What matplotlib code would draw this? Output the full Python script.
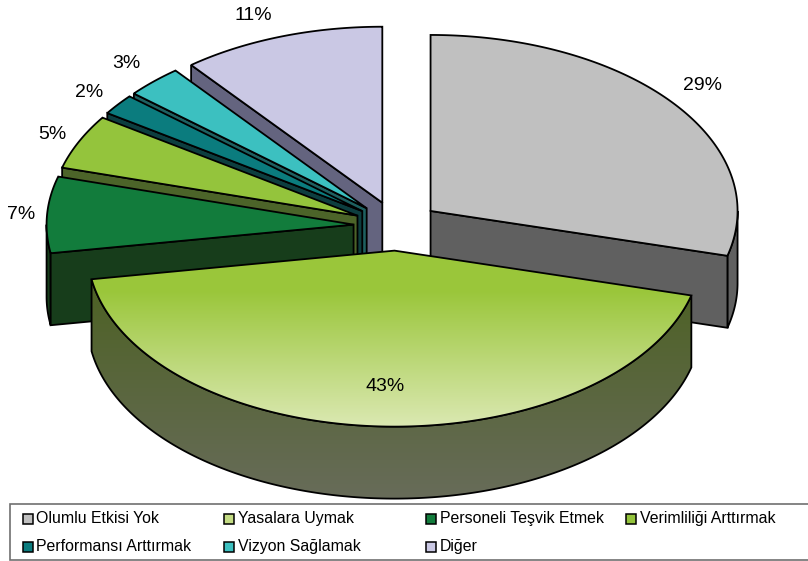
import numpy as np
import matplotlib
matplotlib.use("Agg")
import matplotlib.pyplot as plt
from matplotlib.patches import Polygon, Rectangle

plt.rcParams["font.family"] = ["Liberation Sans", "DejaVu Sans"]

categories = ["Olumlu Etkisi Yok", "Yasalara Uymak", "Personeli Teşvik Etmek",
              "Verimliliği Arttırmak", "Performansı Arttırmak", "Vizyon Sağlamak", "Diğer"]
values = [29.1, 43.3, 7.0, 5.0, 1.9, 3.0, 10.7]
top_colors = ["#C0C0C0", "#9AC63A", "#127C3C", "#94C43C", "#0B7C7E", "#3CC0C0", "#CAC8E4"]
wall_colors = ["#606060", "#4F6228", "#173D1B", "#4C6429", "#0D3E3F", "#1E6060", "#64647F"]
legend_colors = ["#C0C0C0", "#C4DC84", "#127C3C", "#94C43C", "#0B7C7E", "#3CC0C0", "#CAC8E4"]
label_pos = [(702, 85), (385, 386), (21, 214), (52, 134), (89, 92), (126, 63), (253, 15)]
draw_order = [6, 5, 4, 3, 2, 0, 1]

CX, CY = 396.5, 226
RX, RY = 307, 176
EXPLODE = 43
DEPTH = 72

fig = plt.figure(figsize=(8.08, 5.61), dpi=100)
ax = fig.add_axes([0, 0, 1, 1])
ax.axis("off")


def point(cx, cy, ang):
    return cx + RX * np.sin(ang), cy - RY * np.cos(ang)


def gradient(verts, c_top, c_bottom, y0, y1):
    # vertical colour ramp clipped to a polygon, flat above y0 and below y1
    c0 = np.array(matplotlib.colors.to_rgb(c_top))
    c1 = np.array(matplotlib.colors.to_rgb(c_bottom))
    rows = np.arange(0, 561)
    t = np.clip((rows - y0) / (y1 - y0), 0, 1)[:, None, None]
    im = ax.imshow(c0 + (c1 - c0) * t, extent=[0, 808, 561, 0], aspect="auto", zorder=3)
    patch = Polygon(verts, closed=True, transform=ax.transData)
    im.set_clip_path(patch)


edges = np.radians(np.cumsum([0] + values) * 3.6)

for i in draw_order:
    a0, a1 = edges[i], edges[i + 1]
    mid = (a0 + a1) / 2
    cx = CX + EXPLODE * np.sin(mid)
    cy = CY - EXPLODE * RY / RX * np.cos(mid)
    ang = np.linspace(a0, a1, 200)
    xs, ys = point(cx, cy, ang)
    top = np.column_stack([np.r_[cx, xs], np.r_[cy, ys]])

    # rim wall, only the part facing the viewer
    lo, hi = max(a0, np.pi / 2), min(a1, 3 * np.pi / 2)
    if hi > lo:
        ra = np.linspace(lo, hi, 200)
        rx, ry = point(cx, cy, ra)
        rim = np.column_stack([np.r_[rx, rx[::-1]], np.r_[ry, ry[::-1] + DEPTH]])
        if i == 1:
            gradient(rim, "#4F6228", "#686C5A", 300, 500)
            ax.add_patch(Polygon(rim, closed=True, fc="none", ec="black", lw=1.3, zorder=3))
        else:
            ax.add_patch(Polygon(rim, closed=True, fc=wall_colors[i], ec="black", lw=1.3, zorder=3))

    # radial wall on the side that shows
    if i != 1:
        wall_ang = a1 if i == 0 else a0
        wx, wy = point(cx, cy, wall_ang)
        wall = [(cx, cy), (wx, wy), (wx, wy + DEPTH), (cx, cy + DEPTH)]
        ax.add_patch(Polygon(wall, closed=True, fc=wall_colors[i], ec="black", lw=1.3, zorder=3))

    if i == 1:
        gradient(top, "#9AC63A", "#DCE9B4", 290, 428)
        ax.add_patch(Polygon(top, closed=True, fc="none", ec="black", lw=1.3, zorder=3))
    else:
        ax.add_patch(Polygon(top, closed=True, fc=top_colors[i], ec="black", lw=1.3, zorder=3))

for v, (x, y) in zip(values, label_pos):
    ax.text(x, y, f"{round(v)}%", fontsize=14, ha="center", va="center", color="black", zorder=5)

# legend box, right edge runs off the picture
ax.add_patch(Rectangle((10, 504), 810, 56, fc="white", ec="#707070", lw=1.2, zorder=4))
leg_x = [22.5, 224, 426, 626, 22.5, 224, 426]
leg_y = [518.5, 518.5, 518.5, 518.5, 546.5, 546.5, 546.5]
for name, col, x, y in zip(categories, legend_colors, leg_x, leg_y):
    ax.add_patch(Rectangle((x, y - 5), 10, 10, fc=col, ec="black", lw=1.1, zorder=5))
    ax.text(x + 13.5, y, name, fontsize=11.4, ha="left", va="center", color="black", zorder=5)

ax.set_xlim(0, 808)
ax.set_ylim(561, 0)
fig.savefig("out.png", dpi=100)
